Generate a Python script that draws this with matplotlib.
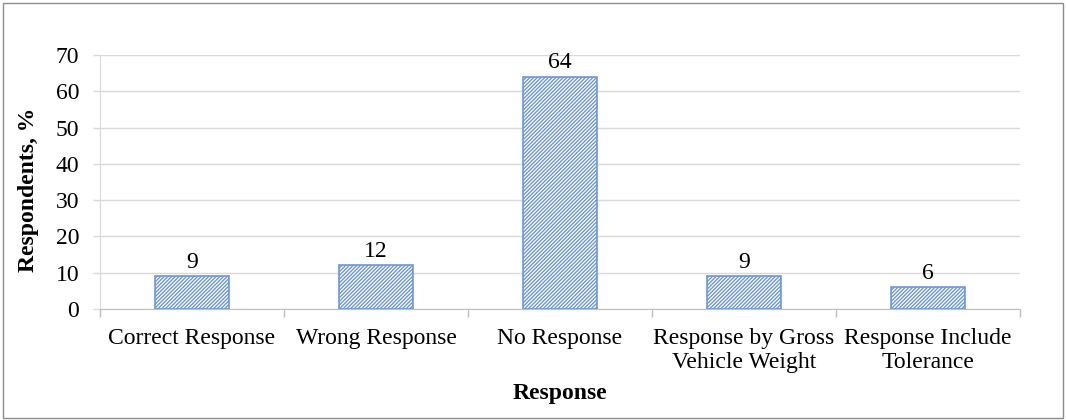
import matplotlib
matplotlib.use("Agg")
import matplotlib.pyplot as plt
from matplotlib.patches import Rectangle

categories = ["Correct Response", "Wrong Response", "No Response",
              "Response by Gross\nVehicle Weight", "Response Include\nTolerance"]
values = [9, 12, 64, 9, 6]
yticks = [0, 10, 20, 30, 40, 50, 60, 70]

plt.rcParams["font.family"] = ["Liberation Serif", "DejaVu Serif"]
plt.rcParams["hatch.linewidth"] = 1.0
plt.rcParams["hatch.color"] = "#7FA3D8"

W, H = 1066, 420
fig = plt.figure(figsize=(W / 100, H / 100), dpi=100)
FS = 17

# axes box in pixel terms
left, right, top, bottom = 100, 1020, 55, 309
ax = fig.add_axes([left / W, 1 - bottom / H, (right - left) / W, (bottom - top) / H])

x = range(len(categories))
bars = ax.bar(x, values, width=0.4, color="white", edgecolor="#6F97D0",
              linewidth=1.2, hatch="/////////", zorder=3)

for xi, v in zip(x, values):
    ax.text(xi, v + 1.0, f"{v}", ha="center", va="bottom", fontsize=FS, zorder=4)

ax.set_xlim(-0.5, len(categories) - 0.5)
ax.set_ylim(0, 70)
ax.set_yticks(yticks)
ax.set_yticklabels([str(t) for t in yticks], fontsize=FS)
ax.yaxis.grid(True, color="#D9D9D9", linewidth=1.0, zorder=0)

# category boundary ticks on x axis
ax.set_xticks([i - 0.5 for i in range(len(categories) + 1)])
ax.set_xticklabels([])
ax.set_xticks(list(x), minor=True)
ax.set_xticklabels(categories, minor=True, fontsize=FS, linespacing=1.15)
ax.tick_params(axis="x", which="minor", length=0, pad=14)
ax.tick_params(axis="x", which="major", length=6, color="#BFBFBF", width=1.0)
ax.tick_params(axis="y", length=5, color="#D9D9D9", width=1.0, pad=10)

for s in ["top", "right"]:
    ax.spines[s].set_visible(False)
ax.spines["left"].set_color("#D9D9D9")
ax.spines["bottom"].set_color("#BFBFBF")

ax.set_ylabel("Respondents, %", fontsize=FS, fontweight="bold", va="center")
ax.yaxis.set_label_coords(-(left - 29) / (right - left), 0.47)
fig.text((left + right) / 2 / W, 1 - 393 / H, "Response", ha="center", va="center",
         fontsize=FS, fontweight="bold")

# outer frame
fig.patches.append(Rectangle((3 / W, 2 / H), (1063 - 3) / W, (417 - 2) / H,
                             transform=fig.transFigure, fill=False,
                             edgecolor="#8C8C8C", linewidth=1.0))

fig.savefig("out.png", dpi=100)
